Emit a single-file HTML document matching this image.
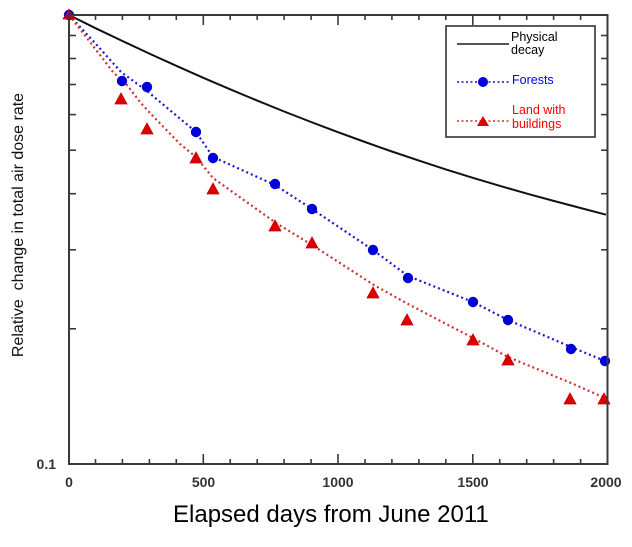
<!DOCTYPE html>
<html>
<head>
<meta charset="utf-8">
<style>
  html, body { margin:0; padding:0; background:#ffffff; }
  body { width:632px; height:547px; overflow:hidden; }
  svg { display:block; }
  text { font-family: "Liberation Sans", Arial, sans-serif; }
</style>
</head>
<body>
<svg width="632" height="547" viewBox="0 0 632 547" xmlns="http://www.w3.org/2000/svg">
  <rect x="0" y="0" width="632" height="547" fill="#ffffff"/>

  <!-- Physical decay -->
  <polyline fill="none" stroke="#111" stroke-width="2"
    points="69,15 95.5,28.2 122.4,41 149.4,53.6 176.3,65.8 203.3,77.8 230.2,89.3 257.2,100.6 284.1,111.5 311.1,122 338,132.2 365,142 391.9,151.5 418.9,160.6 445.8,169.4 472.8,177.8 499.7,185.8 526.7,193.6 553.6,200.9 580.6,208 606,214.7"/>

  <!-- Forests dotted line -->
  <polyline fill="none" stroke="#1a1acc" stroke-width="2.2" stroke-dasharray="2 3"
    points="69,15 95,43 121,72 147,91 196,132 213,157 275,185 312,209 373,250 408,276 473,302 508,320 571,347 605,361"/>

  <!-- Land with buildings dotted line -->
  <polyline fill="none" stroke="#d03030" stroke-width="2.2" stroke-dasharray="2 3"
    points="69,15 90,42 113,72 127,85 140,102 150,113 180,144 196,157 213,178 276,223 312,245 374,285 408,304 473,338 508,357 571,383 605,398"/>

  <!-- Triangles -->
  <g fill="#dd0000" stroke="#cc0000" stroke-width="0.8">
    <polygon points="69,9 75,19 63,19"/>
    <polygon points="121,93 127,104 115,104"/>
    <polygon points="147,123 153,134 141,134"/>
    <polygon points="196,152 202,163 190,163"/>
    <polygon points="213,183 219,194 207,194"/>
    <polygon points="275,220 281,231 269,231"/>
    <polygon points="312,237 318,248 306,248"/>
    <polygon points="373,287 379,298 367,298"/>
    <polygon points="407,314 413,325 401,325"/>
    <polygon points="473,334 479,345 467,345"/>
    <polygon points="508,354 514,365 502,365"/>
    <polygon points="570,393 576,404 564,404"/>
    <polygon points="604,393 610,404 598,404"/>
  </g>

  <!-- Circles -->
  <g fill="#0000d8">
    <circle cx="69" cy="15" r="5.2"/>
    <circle cx="122" cy="81" r="5.2"/>
    <circle cx="147" cy="87" r="5.2"/>
    <circle cx="196" cy="132" r="5.2"/>
    <circle cx="213" cy="158" r="5.2"/>
    <circle cx="275" cy="184" r="5.2"/>
    <circle cx="312" cy="209" r="5.2"/>
    <circle cx="373" cy="250" r="5.2"/>
    <circle cx="408" cy="278" r="5.2"/>
    <circle cx="473" cy="302" r="5.2"/>
    <circle cx="508" cy="320" r="5.2"/>
    <circle cx="571" cy="349" r="5.2"/>
    <circle cx="605" cy="361" r="5.2"/>
  </g>
  <!-- re-draw first triangle on top of circle (overlap at origin) -->
  <polygon points="69,9 75,19 63,19" fill="#dd0000" opacity="0.85"/>

  <!-- Axes frame -->
  <rect x="69" y="15" width="538.5" height="449" fill="none" stroke="#3a3a3a" stroke-width="2"/>

  <!-- Bottom & top ticks -->
  <g stroke="#3a3a3a" stroke-width="1.6">
    <line x1="95.5" y1="464" x2="95.5" y2="459"/>
    <line x1="122.4" y1="464" x2="122.4" y2="459"/>
    <line x1="149.4" y1="464" x2="149.4" y2="459"/>
    <line x1="176.3" y1="464" x2="176.3" y2="459"/>
    <line x1="203.3" y1="464" x2="203.3" y2="454"/>
    <line x1="230.2" y1="464" x2="230.2" y2="459"/>
    <line x1="257.2" y1="464" x2="257.2" y2="459"/>
    <line x1="284.1" y1="464" x2="284.1" y2="459"/>
    <line x1="311.1" y1="464" x2="311.1" y2="459"/>
    <line x1="338" y1="464" x2="338" y2="454"/>
    <line x1="365" y1="464" x2="365" y2="459"/>
    <line x1="391.9" y1="464" x2="391.9" y2="459"/>
    <line x1="418.9" y1="464" x2="418.9" y2="459"/>
    <line x1="445.8" y1="464" x2="445.8" y2="459"/>
    <line x1="472.8" y1="464" x2="472.8" y2="454"/>
    <line x1="499.7" y1="464" x2="499.7" y2="459"/>
    <line x1="526.7" y1="464" x2="526.7" y2="459"/>
    <line x1="553.6" y1="464" x2="553.6" y2="459"/>
    <line x1="580.6" y1="464" x2="580.6" y2="459"/>

    <line x1="95.5" y1="15" x2="95.5" y2="20"/>
    <line x1="122.4" y1="15" x2="122.4" y2="20"/>
    <line x1="149.4" y1="15" x2="149.4" y2="20"/>
    <line x1="176.3" y1="15" x2="176.3" y2="20"/>
    <line x1="203.3" y1="15" x2="203.3" y2="25"/>
    <line x1="230.2" y1="15" x2="230.2" y2="20"/>
    <line x1="257.2" y1="15" x2="257.2" y2="20"/>
    <line x1="284.1" y1="15" x2="284.1" y2="20"/>
    <line x1="311.1" y1="15" x2="311.1" y2="20"/>
    <line x1="338" y1="15" x2="338" y2="25"/>
    <line x1="365" y1="15" x2="365" y2="20"/>
    <line x1="391.9" y1="15" x2="391.9" y2="20"/>
    <line x1="418.9" y1="15" x2="418.9" y2="20"/>
    <line x1="445.8" y1="15" x2="445.8" y2="20"/>
    <line x1="472.8" y1="15" x2="472.8" y2="25"/>
    <line x1="499.7" y1="15" x2="499.7" y2="20"/>
    <line x1="526.7" y1="15" x2="526.7" y2="20"/>
    <line x1="553.6" y1="15" x2="553.6" y2="20"/>
    <line x1="580.6" y1="15" x2="580.6" y2="20"/>

    <!-- Left ticks (log: 0.9..0.2) -->
    <line x1="69" y1="35.5" x2="76" y2="35.5"/>
    <line x1="69" y1="58.5" x2="76" y2="58.5"/>
    <line x1="69" y1="84.5" x2="76" y2="84.5"/>
    <line x1="69" y1="114.6" x2="76" y2="114.6"/>
    <line x1="69" y1="150.2" x2="76" y2="150.2"/>
    <line x1="69" y1="193.7" x2="76" y2="193.7"/>
    <line x1="69" y1="249.8" x2="76" y2="249.8"/>
    <line x1="69" y1="328.8" x2="76" y2="328.8"/>

    <!-- Right ticks -->
    <line x1="607.5" y1="35.5" x2="601" y2="35.5"/>
    <line x1="607.5" y1="58.5" x2="601" y2="58.5"/>
    <line x1="607.5" y1="84.5" x2="601" y2="84.5"/>
    <line x1="607.5" y1="114.6" x2="601" y2="114.6"/>
    <line x1="607.5" y1="150.2" x2="601" y2="150.2"/>
    <line x1="607.5" y1="193.7" x2="601" y2="193.7"/>
    <line x1="607.5" y1="249.8" x2="601" y2="249.8"/>
    <line x1="607.5" y1="328.8" x2="601" y2="328.8"/>
  </g>

  <!-- Tick labels -->
  <g font-size="14" font-weight="bold" fill="#333">
    <text x="56" y="469" text-anchor="end">0.1</text>
    <text x="69" y="487" text-anchor="middle">0</text>
    <text x="203.5" y="487" text-anchor="middle">500</text>
    <text x="338" y="487" text-anchor="middle">1000</text>
    <text x="473" y="487" text-anchor="middle">1500</text>
    <text x="606" y="487" text-anchor="middle">2000</text>
  </g>

  <!-- Axis titles -->
  <text x="173" y="522" font-size="24" fill="#000">Elapsed days from June 2011</text>
  <text transform="translate(23,225) rotate(-90)" text-anchor="middle" font-size="16" fill="#111" xml:space="preserve">Relative  change in total air dose rate</text>

  <!-- Legend -->
  <rect x="446" y="26" width="149" height="111" fill="#ffffff" stroke="#333" stroke-width="1.6"/>
  <line x1="457" y1="44" x2="509" y2="44" stroke="#555" stroke-width="2"/>
  <text x="511" y="41" font-size="12.5" fill="#000">Physical</text>
  <text x="511" y="54" font-size="12.5" fill="#000">decay</text>

  <line x1="457" y1="82" x2="509" y2="82" stroke="#4a4ae0" stroke-width="2" stroke-dasharray="2 2.5"/>
  <circle cx="483" cy="82" r="5" fill="#0000d8"/>
  <text x="512" y="84" font-size="12.5" fill="#0000ee">Forests</text>

  <line x1="457" y1="121" x2="509" y2="121" stroke="#e06060" stroke-width="2" stroke-dasharray="2 2.5"/>
  <polygon points="483,116 489,126 477,126" fill="#dd0000"/>
  <text x="512" y="114" font-size="12.5" fill="#ff0000">Land with</text>
  <text x="512" y="128" font-size="12.5" fill="#ff0000">buildings</text>
</svg>
</body>
</html>
